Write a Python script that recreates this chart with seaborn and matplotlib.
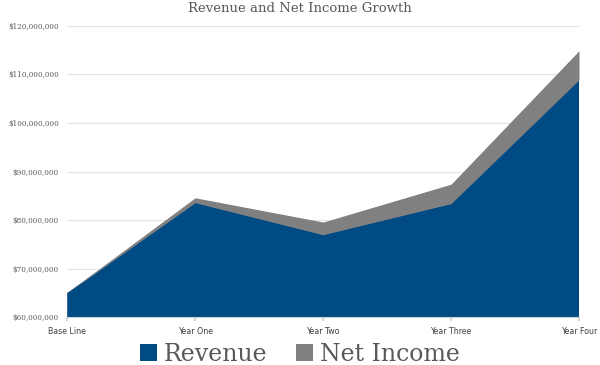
import matplotlib
matplotlib.use("Agg")
import matplotlib.pyplot as plt
from matplotlib.patches import Patch
from matplotlib.ticker import FuncFormatter
import numpy as np
import seaborn as sns

# datos
periodos = ["Base Line", "Year One", "Year Two", "Year Three", "Year Four"]
revenue = [65.0e6, 83.6e6, 77.0e6, 83.4e6, 108.9e6]
net_income = [0.1e6, 1.0e6, 2.6e6, 4.0e6, 6.0e6]
series = ["Revenue", "Net Income"]
colores = ["#004b84", "#808080"]

sns.set_theme(style="white")
plt.rcParams['font.family'] = ['DejaVu Serif']

fig = plt.figure(figsize=(6, 3.65), dpi=100)
ax = fig.add_axes([0.112, 0.131, 0.853, 0.798])

x = np.arange(len(periodos))
ax.stackplot(x, revenue, net_income, colors=colores, linewidth=0, zorder=2)

ax.set_xlim(0, len(periodos) - 1)
ax.set_ylim(60e6, 120e6)
ax.set_yticks(np.arange(60e6, 120e6 + 1, 10e6))
ax.yaxis.set_major_formatter(FuncFormatter(lambda v, p: "${:,.0f}".format(v)))
ax.grid(axis="y", color="#e3e3e3", linewidth=0.8, zorder=0)

ax.set_xticks(x)
ax.set_xticklabels(periodos, family=["DejaVu Sans"], fontstretch="condensed",
                   fontsize=6.3, color="#404040")
for t in ax.get_yticklabels():
    t.set_fontstretch("condensed")
ax.tick_params(axis="x", length=3, color="#d0d0d0", pad=4, bottom=True)
ax.tick_params(axis="y", length=0, labelsize=5.8, labelcolor="#595959", pad=6)

for s in ["top", "right", "left"]:
    ax.spines[s].set_visible(False)
ax.spines["bottom"].set_color("#d0d0d0")
ax.spines["bottom"].set_linewidth(0.8)

fig.suptitle("Revenue and Net Income Growth", y=0.995, fontsize=9.5, color="#595959")

handles = [Patch(facecolor=c, edgecolor="none") for c in colores]
fig.legend(handles, series, loc="center", bbox_to_anchor=(0.5, 0.03), ncol=2,
           frameon=False, fontsize=17, handlelength=0.7, handleheight=0.7,
           handletextpad=0.3, columnspacing=1.2, labelcolor="#595959")

fig.savefig("out.png", dpi=100)
